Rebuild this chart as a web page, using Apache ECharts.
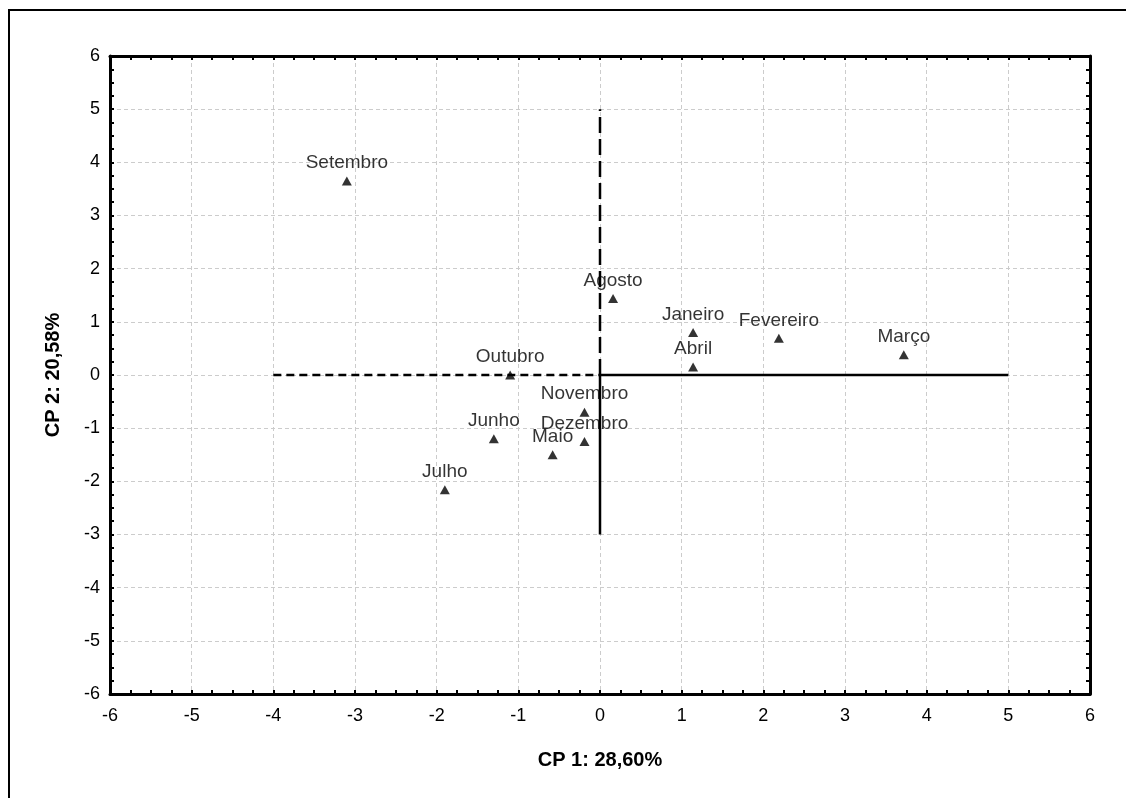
<!DOCTYPE html>
<html>
<head>
<meta charset="utf-8">
<script src="https://cdn.jsdelivr.net/npm/echarts@6/dist/echarts.min.js"></script>
<style>
    html, body { margin: 0; padding: 0; background: #fff; }
    #chart { width: 1126px; height: 798px; }
</style>
</head>
<body>
<div id="chart"></div>
<script>
    // meses e coordenadas (CP1, CP2)
    var months = ['Setembro', 'Agosto', 'Janeiro', 'Abril', 'Fevereiro', 'Março',
                  'Outubro', 'Novembro', 'Dezembro', 'Junho', 'Maio', 'Julho'];
    var cp1 = [-3.10, 0.16, 1.14, 1.14, 2.19, 3.72, -1.10, -0.19, -0.19, -1.30, -0.58, -1.90];
    var cp2 = [3.65, 1.44, 0.80, 0.15, 0.69, 0.38, 0.00, -0.70, -1.25, -1.20, -1.50, -2.16];

    // linhas de referência
    var hDashed = [[-4, 0], [0, 0]];
    var hSolid = [[0, 0], [5, 0]];
    var vDashed = [[0, 0], [0, 5]];
    var vSolid = [[0, 0], [0, -3]];

    var axisMin = -6, axisMax = 6, axisStep = 1;

    var points = months.map(function (m, i) {
        return { name: m, value: [cp1[i], cp2[i]] };
    });

    function makeAxis(pos, showLabel, showGrid, margin) {
        return {
            type: 'value',
            position: pos,
            min: axisMin,
            max: axisMax,
            interval: axisStep,
            axisLine: { show: true, onZero: false, lineStyle: { color: '#000', width: 3 } },
            axisTick: { show: true, inside: true, length: 4, lineStyle: { color: '#000', width: 2 } },
            minorTick: { show: true, splitNumber: 4, length: 4, lineStyle: { color: '#000', width: 2 } },
            axisLabel: { show: showLabel, color: '#000', fontFamily: 'Liberation Sans', fontSize: 18, margin: margin },
            splitLine: { show: showGrid, lineStyle: { color: '#cccccc', type: [4, 3], width: 1 } }
        };
    }

    var titleStyle = { color: '#000', fontFamily: 'Liberation Sans', fontSize: 20, fontWeight: 'bold' };

    var xBottom = makeAxis('bottom', true, true, 13);
    xBottom.name = 'CP 1: 28,60%';
    xBottom.nameLocation = 'middle';
    xBottom.nameGap = 56;
    xBottom.nameTextStyle = titleStyle;

    var yLeft = makeAxis('left', true, true, 10);
    yLeft.name = 'CP 2: 20,58%';
    yLeft.nameLocation = 'middle';
    yLeft.nameGap = 47;
    yLeft.nameTextStyle = titleStyle;

    function refLine(data, type) {
        return {
            type: 'line',
            data: data,
            symbol: 'none',
            silent: true,
            lineStyle: { color: '#000', width: 2.5, type: type },
            z: 3
        };
    }

    var option = {
        animation: false,
        backgroundColor: '#fff',
        grid: { left: 110, top: 56, right: 36, bottom: 104 },
        xAxis: [xBottom, makeAxis('top', false, false, 8)],
        yAxis: [yLeft, makeAxis('right', false, false, 8)],
        graphic: [{
            type: 'rect',
            shape: { x: 9, y: 10, width: 1200, height: 900 },
            style: { fill: 'none', stroke: '#000', lineWidth: 2 },
            silent: true
        }],
        series: [
            refLine(hDashed, [8, 5]),
            refLine(hSolid, 'solid'),
            refLine(vDashed, [16, 6]),
            refLine(vSolid, 'solid'),
            {
                type: 'scatter',
                data: points,
                symbol: 'triangle',
                symbolSize: [10, 9],
                itemStyle: { color: '#000' },
                z: 5,
                label: {
                    show: true,
                    position: 'top',
                    distance: 4,
                    formatter: '{b}',
                    color: '#000',
                    fontFamily: 'Liberation Sans',
                    fontSize: 19
                }
            }
        ]
    };

    var chart = echarts.init(document.getElementById('chart'));
    chart.setOption(option);
</script>
</body>
</html>
